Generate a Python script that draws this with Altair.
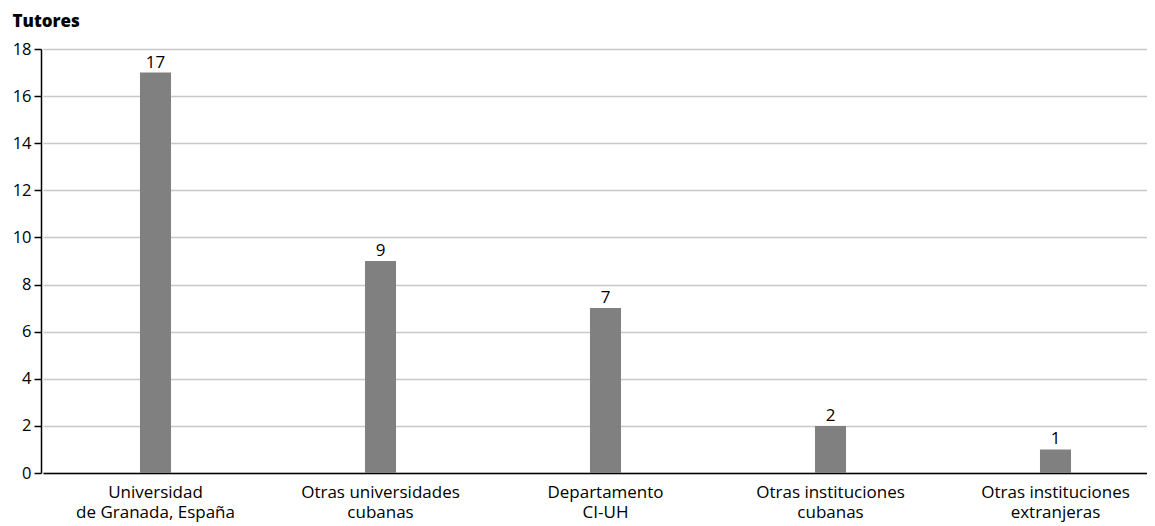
import altair as alt
import pandas as pd

categories = ["Universidad|de Granada, España", "Otras universidades|cubanas",
              "Departamento|CI-UH", "Otras instituciones|cubanas",
              "Otras instituciones|extranjeras"]
values = [17, 9, 7, 2, 1]
y_ticks = [0, 2, 4, 6, 8, 10, 12, 14, 16, 18]

df = pd.DataFrame({"cat": categories, "val": values})
FONT = "Open Sans"

xscale = alt.Scale(paddingInner=0.862, paddingOuter=0.431, range=[2, 1127])
x = alt.X("cat:N", sort=categories, title=None, scale=xscale,
          axis=alt.Axis(labelAngle=0, labelExpr="split(datum.label, '|')",
                        labelFontSize=17, labelFont=FONT, labelColor="black",
                        ticks=False, domainColor="black", domainWidth=1.5,
                        labelPadding=11, labelLineHeight=20))
y = alt.Y("val:Q", title="Tutores",
          scale=alt.Scale(domain=[0, 18], nice=False),
          axis=alt.Axis(values=y_ticks, labelFontSize=16.5, labelFont=FONT,
                        labelColor="black", tickColor="black", tickSize=7,
                        tickWidth=1.5, domainColor="black", domainWidth=1.5,
                        gridColor="#c8c8c8", gridWidth=1.5, labelPadding=3,
                        titleAngle=0, titleAlign="left", titleBaseline="alphabetic",
                        titleX=-29, titleY=-23, titleFontSize=17, titleFont=FONT,
                        titleFontWeight=800, titleColor="black"))

bars = alt.Chart(df).mark_bar(color="#808080").encode(x=x, y=y)
labels = alt.Chart(df).mark_text(dy=-10, fontSize=17, font=FONT, color="black").encode(
    x=alt.X("cat:N", sort=categories), y="val:Q", text="val:Q")

chart = (bars + labels).properties(
    width=1106, height=424,
    autosize=alt.AutoSizeParams(type="none"),
    padding={"left": 33, "top": 41, "right": 0, "bottom": 53},
).configure_view(stroke=None)

chart.save("out.html", embed_options={"renderer": "svg", "actions": False})
